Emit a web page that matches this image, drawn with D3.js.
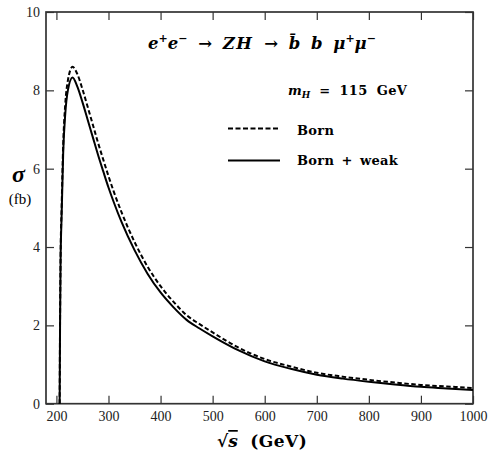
<!DOCTYPE html>
<html>
<head>
<meta charset="utf-8">
<script src="https://cdn.jsdelivr.net/npm/d3@7"></script>
<style>
html,body{margin:0;padding:0;background:#fff;}
svg{display:block;}
</style>
</head>
<body>
<svg id="chart" width="488" height="457"></svg>
<script>
// ---- data ----
const energies = [206.2,207,208,210,213,217,222,231,240,250,260,270,280,290,300,310,325,350,375,400,425,450,475,500,550,600,650,700,750,800,850,900,950,1000];
const sigmaBorn = [0,2.1,3.75,5.0,6.6,7.65,8.25,8.60,8.42,8.03,7.58,7.12,6.66,6.23,5.81,5.42,4.89,4.13,3.5,3.0,2.6,2.26,2.03,1.82,1.43,1.14,0.95,0.79,0.69,0.61,0.54,0.48,0.44,0.40];
const sigmaWeak = [0,2.0,3.6,4.8,6.4,7.4,8.0,8.33,8.1,7.7,7.25,6.8,6.35,5.93,5.52,5.15,4.64,3.92,3.32,2.84,2.46,2.14,1.92,1.72,1.36,1.08,0.89,0.74,0.64,0.56,0.49,0.43,0.39,0.35];
const xTicks = [200,300,400,500,600,700,800,900,1000];
const yTicks = [0,2,4,6,8,10];
const seriesNames = ["Born","Born + weak"];

// ---- layout ----
const svg = d3.select("#chart");
const L = 46, R = 473, T = 12, B = 403.7;
const x = d3.scaleLinear().domain([180,1000]).range([L,R]);
const y = d3.scaleLinear().domain([0,10]).range([B,T]);
const serif = "'Liberation Serif','DejaVu Serif',serif";
const wide = "'DejaVu Serif',serif";

// axes with inward ticks
const axCol = "#333";
function styleAxis(g, labels){
  g.select(".domain").remove();
  g.selectAll(".tick line").attr("stroke",axCol).attr("stroke-width",1.2);
  g.selectAll(".tick text").attr("font-family",serif).attr("font-size",14).attr("fill","#222");
  if(!labels) g.selectAll(".tick text").remove();
}
svg.append("g").attr("transform",`translate(0,${B})`)
  .call(d3.axisBottom(x).tickValues(xTicks).tickSize(-8).tickPadding(7).tickFormat(d3.format("d")))
  .call(g=>styleAxis(g,true));
svg.append("g").attr("transform",`translate(0,${T})`)
  .call(d3.axisTop(x).tickValues(xTicks).tickSize(-8))
  .call(g=>styleAxis(g,false));
svg.append("g").attr("transform",`translate(${L},0)`)
  .call(d3.axisLeft(y).tickValues(yTicks).tickSize(-8).tickPadding(6).tickFormat(d3.format("d")))
  .call(g=>styleAxis(g,true));
svg.append("g").attr("transform",`translate(${R},0)`)
  .call(d3.axisRight(y).tickValues(yTicks).tickSize(-8))
  .call(g=>styleAxis(g,false));

// frame
svg.append("rect").attr("x",L).attr("y",T).attr("width",R-L).attr("height",B-T)
  .attr("fill","none").attr("stroke",axCol).attr("stroke-width",1.7);

// curves
const line = d3.line().x(d=>x(d[0])).y(d=>y(d[1])).curve(d3.curveMonotoneX);
svg.append("path").datum(energies.map((e,i)=>[e,sigmaBorn[i]]))
  .attr("d",line).attr("fill","none").attr("stroke","#000").attr("stroke-width",2)
  .attr("stroke-dasharray","4.5,2.5");
svg.append("path").datum(energies.map((e,i)=>[e,sigmaWeak[i]]))
  .attr("d",line).attr("fill","none").attr("stroke","#000").attr("stroke-width",2);

// legend
const lg = svg.append("g");
lg.append("line").attr("x1",228).attr("x2",280).attr("y1",128.5).attr("y2",128.5)
  .attr("stroke","#000").attr("stroke-width",2).attr("stroke-dasharray","5,2.5");
lg.append("line").attr("x1",228).attr("x2",280).attr("y1",160.5).attr("y2",160.5)
  .attr("stroke","#000").attr("stroke-width",2);
lg.append("text").attr("x",297).attr("y",135).text(seriesNames[0])
  .attr("font-family",wide).attr("font-weight","bold").attr("font-size",13).attr("letter-spacing",0.3);
lg.append("text").attr("x",297).attr("y",165).text(seriesNames[1])
  .attr("font-family",wide).attr("font-weight","bold").attr("font-size",13).attr("letter-spacing",0.3).attr("word-spacing",2.5);

// title: e+e- -> ZH -> bbar b mu+mu-
const tt = svg.append("text").attr("x",148).attr("y",49)
  .attr("font-family",wide).attr("font-weight","bold").attr("font-size",16.5).attr("word-spacing",5);
tt.append("tspan").attr("font-style","italic").text("e");
tt.append("tspan").attr("font-size",11).attr("dy",-7).text("+");
tt.append("tspan").attr("font-style","italic").attr("dy",7).text("e");
tt.append("tspan").attr("font-size",11).attr("dy",-7).text("\u2212");
tt.append("tspan").attr("dy",7).text(" \u2192 ");
tt.append("tspan").attr("font-style","italic").attr("letter-spacing",1.5).text("ZH");
tt.append("tspan").text(" \u2192 ");
tt.append("tspan").attr("font-style","italic").text("b\u0304 b \u03bc");
tt.append("tspan").attr("font-size",11).attr("dy",-7).text("+");
tt.append("tspan").attr("font-style","italic").attr("dy",7).text("\u03bc");
tt.append("tspan").attr("font-size",11).attr("dy",-7).text("\u2212");

// m_H = 115 GeV
const mt = svg.append("text").attr("x",288).attr("y",95)
  .attr("font-family",wide).attr("font-weight","bold").attr("font-size",13).attr("word-spacing",4);
mt.append("tspan").attr("font-style","italic").text("m");
mt.append("tspan").attr("font-style","italic").attr("font-size",9).attr("dy",3).text("H");
mt.append("tspan").attr("dy",-3).attr("letter-spacing",0.4).text(" = 115  GeV");

// y label
svg.append("text").attr("x",12).attr("y",182).text("\u03c3")
  .attr("font-family",serif).attr("font-weight","bold").attr("font-style","italic").attr("font-size",24);
svg.append("text").attr("x",20).attr("y",204).attr("text-anchor","middle").text("(fb)")
  .attr("font-family",serif).attr("font-size",15);

// x label
const xl = svg.append("text").attr("x",217).attr("y",447)
  .attr("font-family",wide).attr("font-weight","bold").attr("font-size",17).attr("word-spacing",6);
xl.append("tspan").text("\u221a");
xl.append("tspan").attr("font-style","italic").attr("text-decoration","overline").text("s");
xl.append("tspan").attr("letter-spacing",0.5).text("  (GeV)");
</script>
</body>
</html>
